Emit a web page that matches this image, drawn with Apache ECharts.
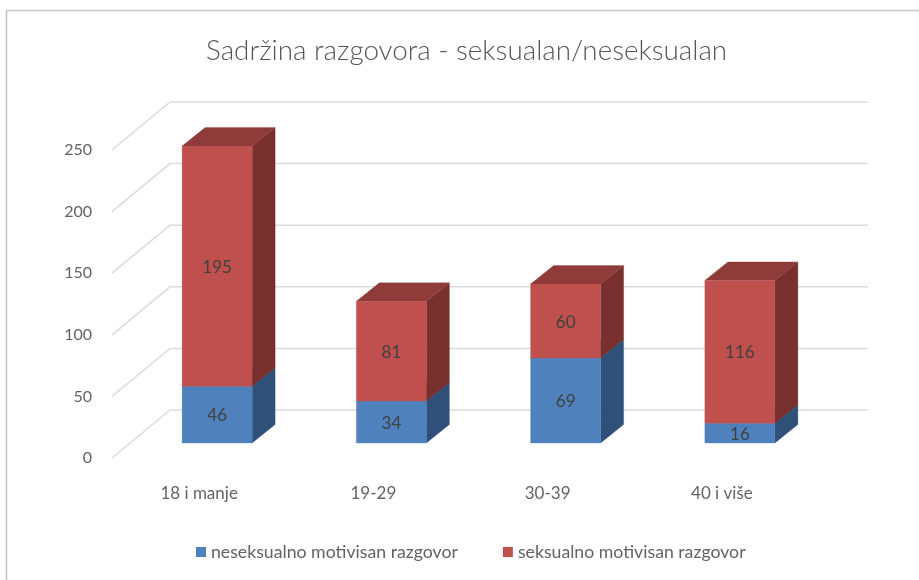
<!DOCTYPE html>
<html>
<head>
<meta charset="utf-8">
<style>
  html, body { margin: 0; padding: 0; background: #fff; }
  #chart { width: 919px; height: 580px; }
</style>
</head>
<body>
<div id="chart"></div>
<script src="https://cdn.jsdelivr.net/npm/echarts@6/dist/echarts.min.js"></script>
<script>
const categories = ['18 i manje', '19-29', '30-39', '40 i više']
const neseksualno = [46, 34, 69, 16]
const seksualno = [195, 81, 60, 116]
const yTicks = [0, 50, 100, 150, 200, 250]

const nameBlue = 'neseksualno motivisan razgovor'
const nameRed = 'seksualno motivisan razgovor'
const textColor = '#636363'
const fontName = 'Lato'

// pomak zadnjeg zida i stupca u dubinu (px)
const wallDx = 58
const wallDy = -48
const barDx = 18
const barDy = -15
const depthDx = 23
const depthDy = -18.5
const barRatio = 0.402

const poly = (points, fill) => ({
  type: 'polygon',
  shape: { points },
  style: { fill, stroke: fill, lineWidth: 0.3 }
})

// jedan segment stupca: prednja strana, bok i vrh
const renderBar = (front, side, top) => (params, api) => {
  const cat = api.value(0)
  const low = api.coord([cat, api.value(1)])
  const high = api.coord([cat, api.value(2)])
  const w = api.size([1, 0])[0] * barRatio
  const x0 = low[0] + barDx - w / 2
  const x1 = x0 + w
  const y0 = low[1] + barDy
  const y1 = high[1] + barDy
  return {
    type: 'group',
    children: [
      poly([[x1, y0], [x1 + depthDx, y0 + depthDy], [x1 + depthDx, y1 + depthDy], [x1, y1]], side),
      poly([[x0, y1], [x0 + depthDx, y1 + depthDy], [x1 + depthDx, y1 + depthDy], [x1, y1]], top),
      poly([[x0, y0], [x1, y0], [x1, y1], [x0, y1]], front),
      {
        type: 'text',
        style: {
          x: (x0 + x1) / 2,
          y: (y0 + y1) / 2 + 1,
          text: String(api.value(3)),
          align: 'center',
          verticalAlign: 'middle',
          fill: '#404040',
          font: '17px ' + fontName
        }
      }
    ]
  }
}

// mreza: kosa linija po podu/zidu pa vodoravna po zadnjem zidu
const renderWall = (params, api) => {
  const cs = params.coordSys
  const y = api.coord([0, api.value(0)])[1]
  return {
    type: 'polyline',
    shape: {
      points: [
        [cs.x, y],
        [cs.x + wallDx, y + wallDy],
        [cs.x + cs.width + wallDx + 1, y + wallDy]
      ]
    },
    style: { fill: 'none', stroke: '#dcdcdc', lineWidth: 1.5 }
  }
}

let base = neseksualno.map(() => 0)
const stack = (values) => {
  const rows = values.map((v, i) => [i, base[i], base[i] + v, v])
  base = base.map((b, i) => b + values[i])
  return rows
}
const blueRows = stack(neseksualno)
const redRows = stack(seksualno)

const chart = echarts.init(document.getElementById('chart'))
chart.setOption({
  animation: false,
  backgroundColor: '#fff',
  title: {
    text: 'Sadržina razgovora - seksualan/neseksualan',
    left: 201,
    top: 32,
    textStyle: { color: '#555', fontFamily: fontName, fontSize: 27.8, fontWeight: 300 }
  },
  // okvir slike: samo gore i lijevo
  graphic: [
    {
      type: 'polyline',
      silent: true,
      shape: { points: [[6.5, 580], [6.5, 10.5], [919, 10.5]] },
      style: { fill: 'none', stroke: '#c4c4c4', lineWidth: 1.5 }
    }
  ],
  grid: { left: 112, right: 110, top: 150, bottom: 122 },
  legend: {
    data: [nameBlue, nameRed],
    left: 191,
    top: 538,
    icon: 'rect',
    itemWidth: 10,
    itemHeight: 10,
    itemGap: 45,
    textStyle: { color: textColor, fontFamily: fontName, fontSize: 17.7 }
  },
  xAxis: {
    type: 'category',
    data: categories,
    axisLine: { show: false },
    axisTick: { show: false },
    axisLabel: { color: textColor, fontFamily: fontName, fontSize: 17, margin: 27 }
  },
  yAxis: {
    type: 'value',
    min: 0,
    max: 250,
    interval: 50,
    axisLine: { show: false },
    axisTick: { show: false },
    splitLine: { show: false },
    axisLabel: { color: textColor, fontFamily: fontName, fontSize: 16, margin: 20 }
  },
  series: [
    {
      type: 'custom',
      name: 'mreza',
      data: yTicks.map(v => [v]),
      encode: { y: 0 },
      clip: false,
      silent: true,
      renderItem: renderWall
    },
    {
      type: 'custom',
      name: nameBlue,
      data: blueRows,
      encode: { x: 0, y: [1, 2] },
      clip: false,
      itemStyle: { color: '#4f81bd' },
      renderItem: renderBar('#4f81bd', '#2f5078', '#3e6797')
    },
    {
      type: 'custom',
      name: nameRed,
      data: redRows,
      encode: { x: 0, y: [1, 2] },
      clip: false,
      itemStyle: { color: '#c0504d' },
      renderItem: renderBar('#c0504d', '#77302e', '#8f3b39')
    }
  ]
})
</script>
</body>
</html>
